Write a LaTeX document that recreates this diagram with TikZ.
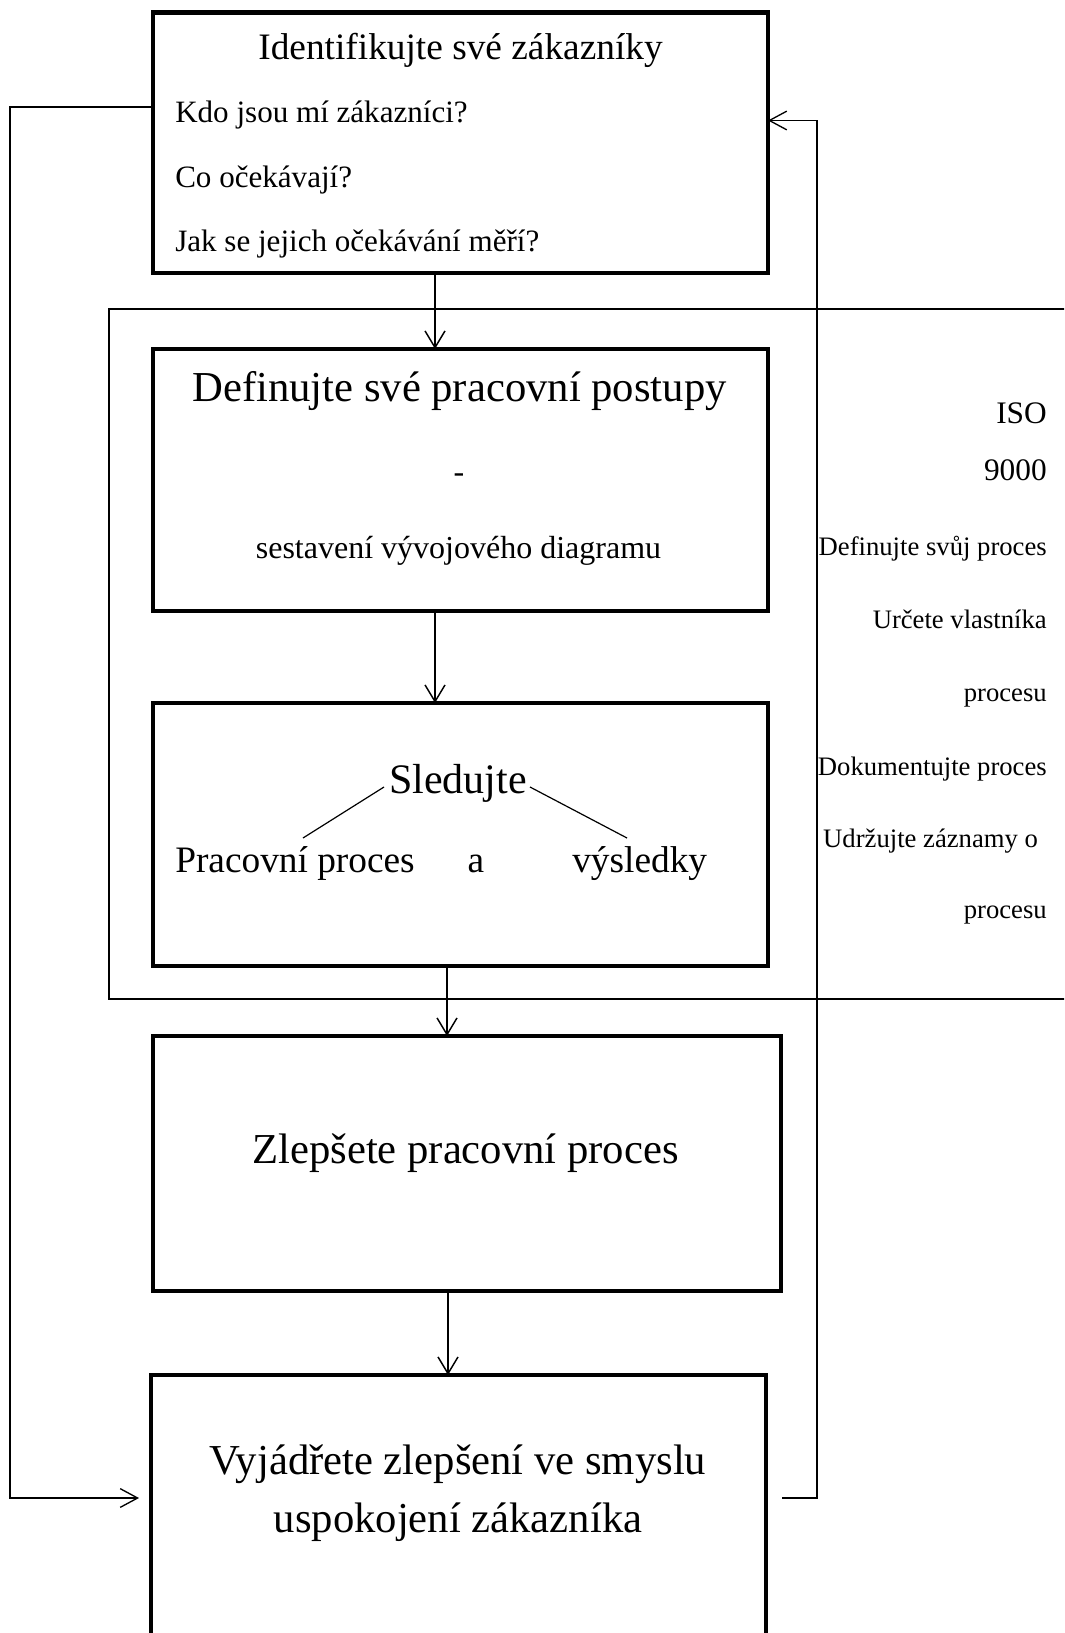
\documentclass[tikz,border=0pt]{standalone}
\usepackage{fontspec}
\setmainfont{Liberation Serif}
\usetikzlibrary{arrows.meta,calc}
\begin{document}
\begin{tikzpicture}[x=0.75pt,y=-0.75pt,
  box/.style={draw, line width=3.2pt, rectangle, inner sep=0pt, outer sep=0pt},
  isobox/.style={draw, line width=1.5pt, rectangle, inner sep=0pt, outer sep=0pt},
  conn/.style={line width=1.1pt, -{Straight Barb[length=12.5pt,width=15pt,line width=1.1pt]}},
  fba/.style={line width=1pt, -{Straight Barb[length=13pt,width=14pt,line width=1pt]}},
  fb/.style={line width=1pt},
  thin/.style={line width=0.9pt},
  txt/.style={inner sep=0pt, anchor=base},
  side/.style={inner sep=0pt, anchor=base east, font=\fontsize{20}{24}\selectfont},
  sidebig/.style={side, font=\fontsize{23.5}{27}\selectfont},
]
\clip (0,0) rectangle (1064,1633);
% boxes
\node[box, minimum width=461.25pt, minimum height=195.4pt] (b1) at (460.5,142.75) {};
\node[isobox, minimum width=728.25pt, minimum height=516.75pt] (iso) at (594.5,654) {};
\node[box, minimum width=461.25pt, minimum height=196.5pt] (b2) at (460.5,480) {};
\node[box, minimum width=461.25pt, minimum height=197.25pt] (b3) at (460.5,834.5) {};
\node[box, minimum width=471pt, minimum height=191.25pt] (b4) at (467,1163.5) {};
\node[box, minimum width=461.25pt, minimum height=243.75pt] (b5) at (458.5,1537.5) {};

% box 1 texts
\node[txt, font=\fontsize{28}{32}\selectfont] (t1) at (460.5,60) {Identifikujte své zákazníky};
\node[txt, anchor=base west, font=\fontsize{23.3}{27}\selectfont] (q1) at (175,123) {Kdo jsou mí zákazníci?};
\node[txt, anchor=base west, font=\fontsize{23.3}{27}\selectfont] (q2) at (175,188) {Co očekávají?};
\node[txt, anchor=base west, font=\fontsize{23.3}{27}\selectfont] (q3) at (175,252) {Jak se jejich očekávání měří?};

% box 2 texts
\node[txt, font=\fontsize{32}{36}\selectfont] (t2) at (459.5,401.7) {Definujte své pracovní postupy};
\node[txt, font=\fontsize{24}{28}\selectfont] (t2d) at (459,482) {-};
\node[txt, font=\fontsize{24}{28}\selectfont] (t2b) at (458.5,558) {sestavení vývojového diagramu};

% box 3 texts
\node[txt, font=\fontsize{31.5}{36}\selectfont] (t3) at (458,793) {Sledujte};
\node[txt, anchor=base west, font=\fontsize{28}{32}\selectfont] (t3a) at (175,872) {Pracovní proces};
\node[txt, font=\fontsize{28}{32}\selectfont] (t3b) at (476,872) {a};
\node[txt, anchor=base west, font=\fontsize{28}{32}\selectfont] (t3c) at (572,872) {výsledky};
\coordinate (sl1) at (384,787);
\coordinate (sl2) at (303,838);
\coordinate (sr1) at (530,787);
\coordinate (sr2) at (627,838);
\draw[thin] (sl1) -- (sl2);
\draw[thin] (sr1) -- (sr2);

% box 4 and 5 texts
\node[txt, font=\fontsize{32}{36}\selectfont] (t4) at (465.5,1163) {Zlepšete pracovní proces};
\node[txt, font=\fontsize{32}{36}\selectfont] (t5a) at (458,1474) {Vyjádřete zlepšení ve smyslu};
\node[txt, font=\fontsize{32}{36}\selectfont] (t5b) at (458,1532) {uspokojení zákazníka};

% ISO side texts
\node[sidebig] (s1) at (1047,423) {ISO};
\node[sidebig] (s2) at (1047,480) {9000};
\node[side] (s3) at (1047,555) {Definujte svůj proces};
\node[side] (s4) at (1047,628) {Určete vlastníka};
\node[side] (s5) at (1047,701) {procesu};
\node[side] (s6) at (1047,775) {Dokumentujte proces};
\node[side] (s7) at (1047,847) {Udržujte záznamy o\kern 6.6pt};
\node[side] (s8) at (1047,918) {procesu};

% main connectors
\coordinate (c1) at ($(b1.south)+(-25.5,0)$);
\draw[conn] (c1) -- (c1 |- b2.north);
\coordinate (c2) at ($(b2.south)+(-25.5,0)$);
\draw[conn] (c2) -- (c2 |- b3.north);
\coordinate (c3) at ($(b3.south)+(-13.5,0)$);
\draw[conn] (c3) -- (c3 |- b4.north);
\coordinate (c4) at ($(b4.south)+(-19,0)$);
\draw[conn] (c4) -- (c4 |- b5.north);

% feedback loops
\coordinate (L1) at ($(b1.west)+(0,-35.75)$);
\coordinate (L2) at ($(b5.west)+(-12,-39.5)$);
\coordinate (Lc) at (10,0);
\draw[fba] (L1) -| (Lc |- L2) -- (L2);
\coordinate (R1) at ($(b5.east)+(16,-39.5)$);
\coordinate (R2) at ($(b1.east)+(0,-22.25)$);
\coordinate (Rc) at (817,0);
\draw[fba] (R1) -| (Rc |- R2) -- (R2);
\end{tikzpicture}
\end{document}
